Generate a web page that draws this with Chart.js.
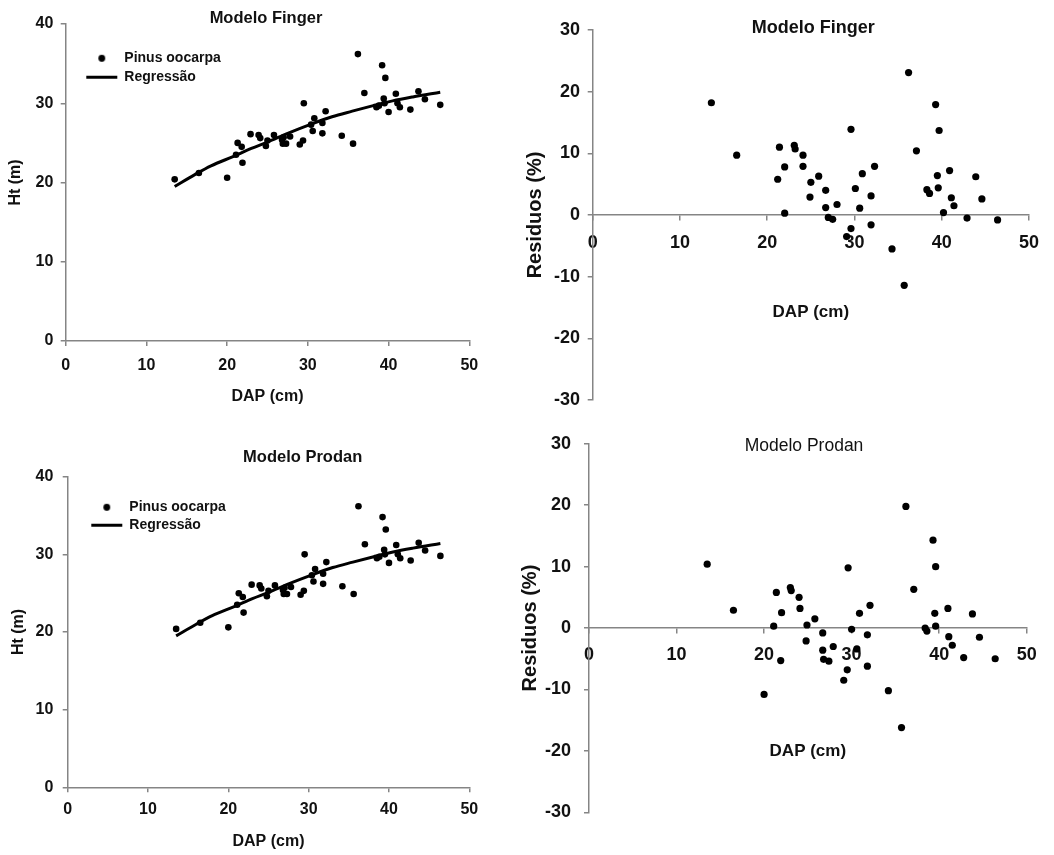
<!DOCTYPE html>
<html>
<head>
<meta charset="utf-8">
<script src="https://cdn.jsdelivr.net/npm/chart.js@4.4.1/dist/chart.umd.min.js"></script>
<style>
html,body{margin:0;padding:0;background:#fff;}
body{width:1054px;height:855px;position:relative;overflow:hidden;}
canvas{position:absolute;}
</style>
</head>
<body>
<canvas id="c1" width="527" height="420" style="left:0;top:0"></canvas>
<canvas id="c2" width="534" height="420" style="left:520px;top:0"></canvas>
<canvas id="c3" width="527" height="435" style="left:0;top:420px"></canvas>
<canvas id="c4" width="534" height="435" style="left:520px;top:420px"></canvas>
<script>
// ---- Data ----
const dapObs = [13.5,16.5,20.0,21.1,21.3,21.8,21.9,22.9,23.9,24.1,24.8,25.0,25.8,26.8,26.9,27.3,27.8,29.0,29.4,29.5,30.4,30.6,30.8,31.8,31.8,32.2,34.2,35.6,36.2,37.0,38.5,39.2,39.6,39.4,39.5,40.0,40.9,41.1,41.4,42.7,43.7,44.5,46.4,27.0,38.8];
const htObs  = [20.4,21.2,20.6,23.5,25.0,24.5,22.5,26.1,26.0,25.6,24.6,25.3,26.0,25.4,24.9,24.9,25.8,24.8,25.3,30.0,27.3,26.5,28.1,27.5,26.2,29.0,25.9,24.9,36.2,31.3,29.5,34.8,33.2,30.6,30.0,28.9,31.2,30.0,29.5,29.2,31.5,30.5,29.8,25.7,29.7];

const regDap = [13.5,16.0,18.0,20.8,23.0,25.0,27.5,30.5,33.0,35.5,38.1,40.5,43.0,46.4];
const regHt  = [19.5,21.0,22.1,23.3,24.3,25.1,26.2,27.4,28.3,29.0,29.7,30.3,30.8,31.4];

const resFingerDap = [13.6,16.5,21.4,21.2,22.0,22.0,23.1,23.2,24.1,24.1,25.0,24.9,25.9,26.7,26.7,27.0,27.5,28.0,29.6,29.6,29.1,30.1,30.6,30.9,31.9,31.9,32.3,34.3,35.7,36.2,37.1,38.3,38.6,39.3,39.7,39.5,39.6,40.2,40.9,41.1,41.4,42.9,43.9,44.6,46.4];
const resFingerPct = [18.2,9.7,11.0,5.8,7.8,0.3,11.3,10.7,9.7,7.9,5.3,2.9,6.3,4.0,1.2,-0.4,-0.7,1.7,13.9,-2.2,-3.5,4.3,1.1,6.7,3.1,-1.6,7.9,-5.5,-11.4,23.1,10.4,4.1,3.5,17.9,13.7,6.4,4.4,0.4,7.2,2.8,1.5,-0.5,6.2,2.6,-0.8];

const resProdanDap = [13.5,16.5,21.4,21.1,22.0,21.9,20.0,23.0,23.1,24.0,24.1,24.9,24.8,25.8,26.7,26.7,26.8,27.4,27.9,29.6,30.0,29.5,29.1,30.6,30.9,31.8,31.8,32.1,34.2,35.7,36.2,37.1,38.4,38.6,39.3,39.6,39.5,39.6,41.0,41.1,41.5,42.8,43.8,44.6,46.4];
const resProdanPct = [10.4,2.9,5.8,0.3,2.5,-5.3,-10.8,6.6,6.1,5.0,3.2,0.5,-2.1,1.5,-0.8,-3.6,-5.1,-5.4,-3.0,9.8,-0.2,-6.8,-8.5,-3.4,2.4,-1.1,-6.2,3.7,-10.2,-16.2,19.8,6.3,0.0,-0.5,14.3,10.0,2.4,0.3,3.2,-1.4,-2.8,-4.8,2.3,-1.5,-5.0];

const dapTicks = [0,10,20,30,40,50];
const htTicks = [0,10,20,30,40];
const resTicks = [-30,-20,-10,0,10,20,30];

const seriesNames = ['Pinus oocarpa','Regressão'];

// ---- Helpers ----
const FONT = "'Liberation Sans', Arial, Helvetica, sans-serif";
Chart.defaults.font.family = FONT;
Chart.defaults.color = '#111';
const AXIS = '#858585';

const pts = (xs, ys) => xs.map((x, i) => ({x: x, y: ys[i]}));

const dot = document.createElement('canvas');
dot.width = 9; dot.height = 9;
(function(){ const g = dot.getContext('2d'); g.fillStyle = '#000'; g.beginPath(); g.arc(4.5,4.5,3.4,0,Math.PI*2); g.fill(); })();

function legendLabels(chart) {
  const items = Chart.defaults.plugins.legend.labels.generateLabels(chart);
  items[0].pointStyle = dot;
  items[0].lineWidth = 0;
  items[1].pointStyle = 'line';
  items[1].lineWidth = 3;
  items[1].strokeStyle = '#000';
  items.forEach(it => { it.fontColor = '#111'; });
  return items;
}

const panelLayout = {
  id: 'panelLayout',
  afterLayout(chart, args, opts) {
    const tb = chart.titleBlock;
    if (tb && opts.titleX != null) {
      const d = opts.titleX - (tb.left + tb.right) / 2;
      tb.left += d; tb.right += d;
    }
    const lg = chart.legend;
    if (lg && opts.legendAt) {
      const w = lg.width, h = lg.height;
      lg.left = opts.legendAt[0]; lg.top = opts.legendAt[1];
      lg.right = lg.left + w; lg.bottom = lg.top + h;
    }
  }
};

function tickVals(list) {
  return function(scale) { scale.ticks = list.map(v => ({value: v})); };
}

function panel(id, o) {
  const datasets = [];
  if (o.kind === 'ht') {
    datasets.push({label: seriesNames[0], data: pts(dapObs, htObs), pointRadius: 3.3, pointBackgroundColor: '#000', pointBorderWidth: 0, showLine: false, order: 1});
    datasets.push({label: seriesNames[1], data: pts(regDap, regHt), showLine: true, pointRadius: 0, borderColor: '#000', borderWidth: 3, tension: 0.4, cubicInterpolationMode: 'monotone', fill: false, order: 2});
  } else {
    datasets.push({label: 'Residuos', data: pts(o.xs, o.ys), pointRadius: 3.6, pointBackgroundColor: '#000', pointBorderWidth: 0, showLine: false});
  }
  const yTicks = o.kind === 'ht' ? htTicks : resTicks;
  return new Chart(document.getElementById(id), {
    type: 'scatter',
    data: {datasets},
    options: {
      responsive: false,
      animation: false,
      events: [],
      layout: {padding: o.pad},
      plugins: {
        title: {display: true, text: o.title, color: '#111', font: {size: o.titleSize, weight: o.titleWeight}, padding: {top: o.titlePad[0], bottom: o.titlePad[1]}},
        legend: o.legendAt ? {
          display: true, position: 'chartArea', align: 'start',
          labels: {usePointStyle: true, pointStyleWidth: 31, padding: o.legendPad, color: '#111', font: {size: 14, weight: 'bold'}, generateLabels: legendLabels}
        } : {display: false},
        tooltip: {enabled: false},
        panelLayout: {titleX: o.titleX, legendAt: o.legendAt}
      },
      scales: {
        x: {
          type: 'linear', min: 0, max: 50,
          position: o.kind === 'ht' ? 'bottom' : {y: 0},
          afterBuildTicks: tickVals(dapTicks),
          ticks: {color: '#111', font: {size: o.tickSize, weight: 'bold'}, padding: o.xTickPad, maxRotation: 0},
          grid: {drawOnChartArea: false, drawTicks: true, tickLength: 5, color: AXIS, lineWidth: 1.5},
          border: {display: true, color: AXIS, width: 1.5},
          title: {display: true, text: 'DAP (cm)', color: '#111', font: {size: o.xTitleSize, weight: 'bold'}, padding: {top: 0, bottom: o.xTitlePadB}},
          afterFit: s => { s.height = o.xH; }
        },
        y: {
          type: 'linear', min: yTicks[0], max: yTicks[yTicks.length - 1],
          position: 'left',
          afterBuildTicks: tickVals(yTicks),
          ticks: {color: '#111', font: {size: o.tickSize, weight: 'bold'}, padding: o.yTickPad},
          grid: {drawOnChartArea: false, drawTicks: true, tickLength: 5, color: AXIS, lineWidth: 1.5},
          border: {display: true, color: AXIS, width: 1.5},
          title: {display: true, text: o.yTitle, color: '#111', font: {size: o.yTitleSize, weight: 'bold'}, padding: {top: o.yTitlePadT, bottom: 0}},
          afterFit: s => { s.width = o.yW; }
        }
      }
    },
    plugins: [panelLayout]
  });
}

panel('c1', {
  kind: 'ht', title: 'Modelo Finger', titleSize: 16.5, titleWeight: 'bold', titlePad: [8.1, -3.9], titleX: 266,
  pad: {left: 0, top: 0, right: 57.7, bottom: 0},
  tickSize: 16, xTickPad: 9.9, yTickPad: 7.4,
  xH: 79, xTitleSize: 16, xTitlePadB: 13.4,
  yW: 65.7, yTitle: 'Ht (m)', yTitleSize: 16, yTitlePadT: 6.1,
  legendAt: [81.3, 46.3], legendPad: 5
});
panel('c3', {
  kind: 'ht', title: 'Modelo Prodan', titleSize: 16.5, titleWeight: 'bold', titlePad: [27.8, 9.1], titleX: 302.7,
  pad: {left: 0, top: 0, right: 57.7, bottom: 0},
  tickSize: 16, xTickPad: 8.1, yTickPad: 9.4,
  xH: 67.7, xTitleSize: 16, xTitlePadB: 3.7,
  yW: 67.7, yTitle: 'Ht (m)', yTitleSize: 16, yTitlePadT: 8.7,
  legendAt: [87.3, 76.3], legendPad: 4
});
panel('c2', {
  kind: 'res', xs: resFingerDap, ys: resFingerPct,
  title: 'Modelo Finger', titleSize: 18, titleWeight: 'bold', titlePad: [16.9, -8.5], titleX: 293.2,
  pad: {left: 0, top: 0, right: 25, bottom: 20},
  tickSize: 18, xTickPad: 12.6, yTickPad: 7.7,
  xH: 107.6, xTitleSize: 17, xTitlePadB: 0,
  yW: 72.7, yTitle: 'Residuos (%)', yTitleSize: 20, yTitlePadT: 3
});
panel('c4', {
  kind: 'res', xs: resProdanDap, ys: resProdanPct,
  title: 'Modelo Prodan', titleSize: 17.5, titleWeight: 'normal', titlePad: [14.5, -12.8], titleX: 284,
  pad: {left: 0, top: 0, right: 27.3, bottom: 42.7},
  tickSize: 18, xTickPad: 11.4, yTickPad: 13,
  xH: 133.9, xTitleSize: 17, xTitlePadB: 0,
  yW: 69, yTitle: 'Residuos (%)', yTitleSize: 20, yTitlePadT: -1.5
});
</script>
</body>
</html>
